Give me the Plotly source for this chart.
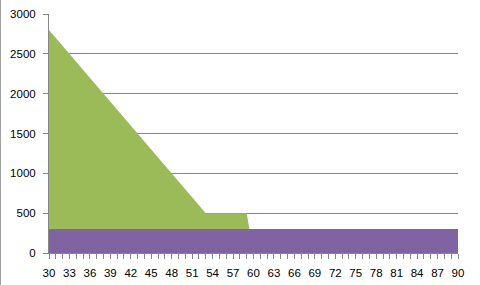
import plotly.graph_objects as go

x_values = list(range(30, 91))
green_values = [2800, 2700, 2600, 2500, 2400, 2300, 2200, 2100, 2000, 1900,
                1800, 1700, 1600, 1500, 1400, 1300, 1200, 1100, 1000, 900,
                800, 700, 600, 500, 500, 500, 500, 500, 500, 500,
                0, 0, 0, 0, 0, 0, 0, 0, 0, 0,
                0, 0, 0, 0, 0, 0, 0, 0, 0, 0,
                0, 0, 0, 0, 0, 0, 0, 0, 0, 0, 0]
purple_values = [300] * 61
x_tick_vals = list(range(30, 91, 3))
y_tick_vals = [0, 500, 1000, 1500, 2000, 2500, 3000]

GRID = "#868686"
FONT = dict(family="Liberation Sans, Arial, sans-serif", size=11.5, color="#000000")

fig = go.Figure()
fig.add_trace(go.Scatter(x=x_values, y=green_values, mode="lines", fill="tozeroy",
                         line=dict(width=0, color="#9BBB59"), fillcolor="#9BBB59",
                         hoverinfo="skip", showlegend=False))
fig.add_trace(go.Scatter(x=x_values, y=purple_values, mode="lines", fill="tozeroy",
                         line=dict(width=0, color="#8064A2"), fillcolor="#8064A2",
                         hoverinfo="skip", showlegend=False))

fig.update_layout(
    width=480, height=285,
    margin=dict(l=49, r=22, t=14, b=32),
    paper_bgcolor="white", plot_bgcolor="white",
    font=FONT,
    xaxis=dict(range=[30, 90], tickmode="array", tickvals=x_tick_vals,
               ticktext=[str(v) for v in x_tick_vals],
               showgrid=False, zeroline=False, automargin=False,
               showline=True, linecolor=GRID, linewidth=1,
               ticks="outside", ticklen=5, tickcolor=GRID,
               ticklabelstandoff=4,
               minor=dict(dtick=1, tick0=30, ticks="outside", ticklen=5, tickcolor=GRID, showgrid=False),
               tickfont=FONT),
    yaxis=dict(range=[0, 3000], tickmode="array", tickvals=y_tick_vals,
               showgrid=True, gridcolor=GRID, gridwidth=1, zeroline=False, automargin=False,
               showline=True, linecolor=GRID, linewidth=1,
               ticks="outside", ticklen=5, tickcolor=GRID,
               ticklabelstandoff=5,
               tickfont=FONT, layer="below traces"),
)
# left chart border
fig.add_shape(type="line", xref="paper", yref="paper", x0=-48.5/409, x1=-48.5/409,
              y0=-32/239, y1=1 + 14/239,
              line=dict(color="#A0A0A0", width=1))

fig.write_html("out.html")
